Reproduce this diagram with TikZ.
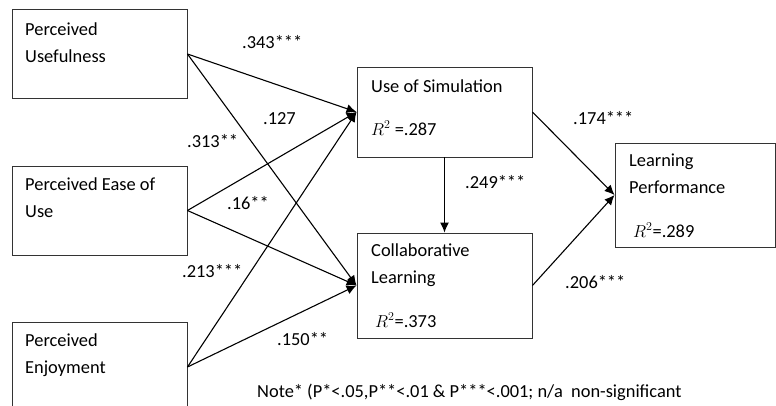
\documentclass[tikz,border=0pt]{standalone}
\usepackage{fontspec}
\setmainfont{Carlito}
\usetikzlibrary{arrows.meta}

\begin{document}
\begin{tikzpicture}[x = 1pt, y = -1pt,
        construct/.style = {draw = black!80, line width = 0.9pt, minimum width = 175pt, inner sep = 0pt},
        txt/.style = {anchor = base west, inner sep = 0pt, align = left, font = \fontsize{18.4}{27}\selectfont},
        coef/.style = {anchor = base west, inner sep = 0pt, font = \fontsize{18.4}{22}\selectfont},
        path/.style = {-{Latex[length = 10pt, width = 9pt]}, line width = 1.1pt}
    ]
    \useasboundingbox (0, 0) rectangle (776, 405);

    % constructs
    \node [construct, minimum height = 89pt] (pu) at (99.5, 54) {};
    \node [construct, minimum height = 89pt] (peou) at (99.5, 210.5) {};
    \node [construct, minimum height = 90pt] (pe) at (99.5, 367) {};
    \node [construct, minimum height = 90pt] (uos) at (444.5, 112) {};
    \node [construct, minimum height = 105pt] (cl) at (444.5, 285.5) {};
    \node [construct, minimum width = 160pt, minimum height = 104pt] (lp) at (695, 195) {};

    % texts (base = last line)
    \node [txt] (pu text) at (25, 62) {Perceived\\Usefulness};
    \node [txt] (peou text) at (25, 217) {Perceived Ease of\\Use};
    \node [txt] (pe text) at (25, 373) {Perceived\\Enjoyment};
    \node [txt] (uos text) at (371, 92) {Use of Simulation};
    \node [txt] (uos r2) at (371, 135) {$R^2$ =.287};
    \node [txt] (cl text) at (371, 283) {Collaborative\\Learning};
    \node [txt] (cl r2) at (375, 327) {$R^2$=.373};
    \node [txt] (lp text) at (629, 193) {Learning\\Performance};
    \node [txt] (lp r2) at (633, 237) {$R^2$=.289};

    % paths
    \draw [path] (pu.east) -- (uos.west);
    \draw [path] (pu.east) -- (cl.west);
    \draw [path] (peou.east) -- (uos.west);
    \draw [path] (peou.east) -- (cl.west);
    \draw [path] (pe.east) -- (uos.west);
    \draw [path] (pe.east) -- (cl.west);
    \draw [path] (uos.south) -- (cl.north);
    \draw [path] (uos.east) -- (lp.west);
    \draw [path] (cl.east) -- (lp.west);

    % coefficients
    \node [coef] (c pu uos) at (242, 48) {.343***};
    \node [coef] (c pu cl) at (263, 124) {.127};
    \node [coef] (c peou uos) at (187, 147) {.313**};
    \node [coef] (c peou cl) at (227, 209) {.16**};
    \node [coef] (c pe uos) at (182, 277) {.213***};
    \node [coef] (c pe cl) at (277, 345) {.150**};
    \node [coef] (c uos lp) at (573, 124) {.174***};
    \node [coef] (c uos cl) at (465, 188) {.249***};
    \node [coef] (c cl lp) at (565, 288) {.206***};

    \node [coef] (note) at (257, 397) {Note* (P*<.05,P**<.01 \& P***<.001; n/a\ \ non-significant};
\end{tikzpicture}
\end{document}
